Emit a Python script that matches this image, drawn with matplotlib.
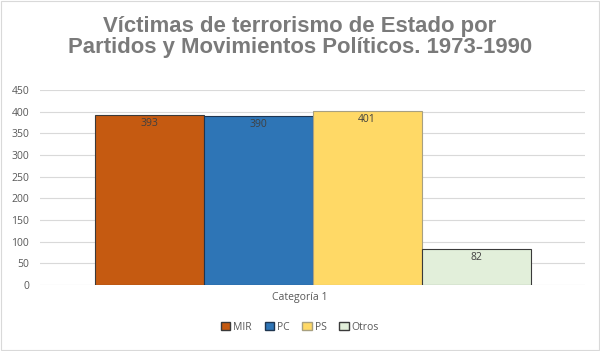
import matplotlib.pyplot as plt
from matplotlib.patches import Rectangle, Patch

series = ['MIR', 'PC', 'PS', 'Otros']
values = [393, 390, 401, 82]
category = 'Categoría 1'
colors = ['#C55A11', '#2E75B6', '#FFD966', '#E2EFDA']
edges = ['#3a3a3a', '#1f3550', '#a8a080', '#3a3a3a']

plt.rcParams['font.family'] = ['Open Sans', 'DejaVu Sans']

fig = plt.figure(figsize=(6, 3.51), dpi=100)
ax = fig.add_axes([0.067, 0.188, 0.908, 0.556])

xs = [0.2, 0.4, 0.6, 0.8]
for x, v, c, e in zip(xs, values, colors, edges):
    ax.bar(x, v, width=0.2, color=c, edgecolor=e, linewidth=0.8, zorder=3)
    ax.text(x, v - 7, str(v), ha='center', va='top', fontsize=7.5, color='#404040', zorder=4)

ax.set_xlim(0, 1)
ax.set_ylim(0, 450)
ax.set_yticks(range(0, 451, 50))
ax.set_xticks([])
ax.grid(axis='y', color='#d9d9d9', linewidth=0.8, zorder=0)
for s in ax.spines.values():
    s.set_visible(False)
ax.tick_params(axis='y', length=0, labelsize=7.5, labelcolor='#595959', pad=8)

fig.text(0.5, 0.151, category, ha='center', va='center', fontsize=7.5, color='#595959')
fig.text(0.5, 0.895, 'Víctimas de terrorismo de Estado por\nPartidos y Movimientos Políticos. 1973-1990',
         ha='center', va='center', fontsize=15.9, fontweight='bold', color='#7a7a7a',
         linespacing=1.03, family=['Liberation Sans', 'DejaVu Sans'])

handles = [Patch(facecolor=c, edgecolor=e, label=s) for s, c, e in zip(series, colors, edges)]
fig.legend(handles=handles, loc='center', bbox_to_anchor=(0.5, 0.068), ncol=4, frameon=False,
           fontsize=7.5, handlelength=0.9, handleheight=0.9, handletextpad=0.3, columnspacing=1.2,
           labelcolor='#595959')

fig.patches.append(Rectangle((0.002, 0.003), 0.996, 0.994, transform=fig.transFigure,
                             fill=False, edgecolor='#d9d9d9', linewidth=0.8))

fig.savefig('out.png', dpi=100)
